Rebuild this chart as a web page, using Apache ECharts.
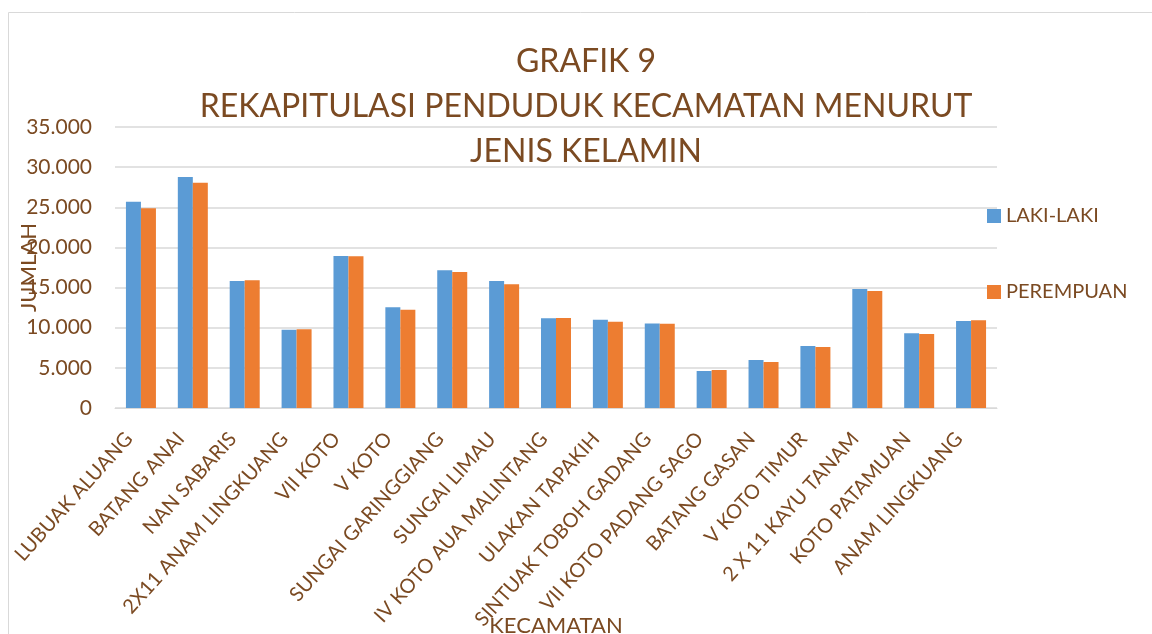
<!DOCTYPE html>
<html>
<head>
<meta charset="utf-8">
<script src="https://cdn.jsdelivr.net/npm/echarts@6/dist/echarts.min.js"></script>
<style>
  html, body { margin: 0; padding: 0; background: #fff; }
  #chart { width: 1152px; height: 634px; }
</style>
</head>
<body>
<div id="chart"></div>
<script>
const kecamatan = [
  'LUBUAK ALUANG', 'BATANG ANAI', 'NAN SABARIS', '2X11 ANAM LINGKUANG', 'VII KOTO',
  'V KOTO', 'SUNGAI GARINGGIANG', 'SUNGAI LIMAU', 'IV KOTO AUA MALINTANG',
  'ULAKAN TAPAKIH', 'SINTUAK TOBOH GADANG', 'VII KOTO PADANG SAGO', 'BATANG GASAN',
  'V KOTO TIMUR', '2 X 11 KAYU TANAM', 'KOTO PATAMUAN', 'ANAM LINGKUANG'
]
const lakiLaki = [25700, 28770, 15820, 9750, 18930, 12540, 17150, 15820, 11170,
  11000, 10540, 4610, 5980, 7720, 14820, 9300, 10830]
const perempuan = [24870, 28060, 15900, 9800, 18890, 12240, 16940, 15400, 11210,
  10750, 10500, 4730, 5730, 7600, 14570, 9220, 10920]
const yTicks = [0, 5000, 10000, 15000, 20000, 25000, 30000, 35000]

const textColor = '#7b4a22'
const font = 'Lato, "Open Sans", sans-serif'

const chart = echarts.init(document.getElementById('chart'))
const option = {
  animation: false,
  textStyle: { fontFamily: font },
  graphic: [
    {
      type: 'rect',
      shape: { x: 8.5, y: 12.5, width: 1300, height: 800 },
      style: { fill: 'none', stroke: '#d9d9d9', lineWidth: 1 },
      silent: true
    }
  ],
  title: {
    text: 'GRAFIK 9\nREKAPITULASI PENDUDUK KECAMATAN MENURUT\nJENIS KELAMIN',
    left: 581,
    top: 34,
    textAlign: 'center',
    textStyle: {
      color: textColor,
      fontFamily: font,
      fontWeight: 'normal',
      fontSize: 32,
      lineHeight: 45
    }
  },
  legend: {
    orient: 'vertical',
    left: 982,
    top: 201,
    itemWidth: 14,
    itemHeight: 14,
    itemGap: 56,
    icon: 'rect',
    textStyle: { color: textColor, fontSize: 20, fontFamily: font },
    data: ['LAKI-LAKI', 'PEREMPUAN']
  },
  grid: { left: 115, right: 155, top: 127, bottom: 226, outerBoundsMode: 'none' },
  xAxis: {
    type: 'category',
    data: kecamatan,
    name: 'KECAMATAN',
    nameLocation: 'middle',
    nameGap: 207,
    nameMoveOverlap: false,
    nameTextStyle: { color: textColor, fontSize: 22, fontFamily: font },
    axisLine: { lineStyle: { color: '#d9d9d9' } },
    axisTick: { length: 6, lineStyle: { color: '#d9d9d9' } },
    axisLabel: {
      rotate: 48,
      interval: 0,
      margin: 14,
      padding: [0, 18, 0, 0],
      color: textColor,
      fontSize: 20,
      fontFamily: font
    }
  },
  yAxis: {
    type: 'value',
    min: 0,
    max: 35000,
    interval: 5000,
    name: 'JUMLAH',
    nameLocation: 'middle',
    nameGap: 75,
    nameMoveOverlap: false,
    nameTextStyle: { color: textColor, fontSize: 22, fontFamily: font },
    axisLine: { show: false },
    axisTick: { show: false },
    splitLine: { lineStyle: { color: '#d9d9d9', width: 1.5 } },
    axisLabel: {
      margin: 23,
      color: textColor,
      fontSize: 21,
      fontFamily: font,
      customValues: yTicks,
      formatter: v => v.toLocaleString('de-DE')
    }
  },
  series: [
    {
      name: 'LAKI-LAKI',
      type: 'bar',
      data: lakiLaki,
      barWidth: 15,
      barGap: '0%',
      itemStyle: { color: '#5b9bd5' }
    },
    {
      name: 'PEREMPUAN',
      type: 'bar',
      data: perempuan,
      barWidth: 15,
      barGap: '0%',
      itemStyle: { color: '#ed7d31' }
    }
  ]
}
chart.setOption(option)
</script>
</body>
</html>
